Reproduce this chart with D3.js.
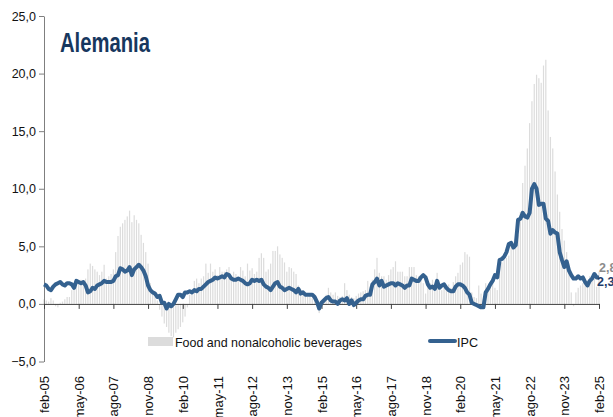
<!DOCTYPE html>
<html>
<head>
<meta charset="utf-8">
<script src="https://cdn.jsdelivr.net/npm/d3@7"></script>
<style>
body { margin: 0; background: #fff; }
text { font-family: "Liberation Sans", Arial, sans-serif; }
</style>
</head>
<body>
<script>
// monthly series, feb-05 .. feb-25
var food2005 = [0.4, 0.3, 0.2, 0.5, 0.3, -0.2, -0.3, 0.1, 0.2, 0.4, 0.6];
var foodYears = [
  [0.6, 1.2, 1.6, 2.0, 1.8, 2.1, 2.0, 2.2, 3.0, 3.5, 3.3, 3.0],
  [2.8, 2.5, 2.8, 3.4, 2.2, 2.4, 2.6, 3.0, 4.5, 5.9, 6.7, 7.0],
  [7.3, 7.6, 8.1, 7.1, 7.7, 7.3, 7.0, 6.0, 5.3, 4.5, 3.5, 1.8],
  [1.2, 0.6, 0.3, -0.5, -1.1, -1.7, -2.0, -2.5, -2.8, -2.9, -2.5, -2.2],
  [-2.0, -1.6, -1.1, -0.3, 0.8, 1.2, 2.0, 2.2, 1.8, 2.2, 2.4, 3.5],
  [2.7, 3.5, 2.8, 3.0, 2.5, 3.2, 2.8, 2.8, 3.0, 3.2, 2.4, 2.8],
  [2.6, 2.2, 3.2, 2.9, 2.4, 3.5, 2.9, 3.1, 2.6, 2.8, 4.0, 4.4],
  [4.0, 2.8, 3.0, 3.5, 4.6, 4.6, 5.0, 4.3, 4.0, 3.6, 2.8, 3.2],
  [3.1, 2.8, 2.6, 1.6, 1.3, 1.0, 0.8, 0.6, 0.8, 0.5, 0.5, 0.3],
  [-0.8, -0.3, 0.5, 0.8, 1.4, 1.0, 0.8, 1.0, 0.7, 0.6, 0.7, 1.8],
  [1.2, 0.8, 0.6, 0.5, 0.7, 0.9, 1.0, 1.1, 1.2, 2.0, 1.5, 2.1],
  [3.0, 4.0, 2.7, 2.4, 2.4, 2.1, 2.5, 3.0, 3.2, 3.7, 2.8, 2.8],
  [2.8, 2.4, 2.4, 3.2, 3.2, 3.2, 2.5, 2.4, 2.4, 1.8, 0.9, 1.8],
  [1.8, 2.1, 1.5, 2.7, 1.8, 1.2, 1.5, 1.6, 1.7, 1.4, 1.9, 2.4],
  [2.7, 3.4, 3.6, 4.5, 4.3, 4.1, 1.0, 0.6, 0.5, 1.6, 0.9, 0.4],
  [1.8, 1.3, 1.8, 1.8, 1.4, 1.2, 3.5, 3.6, 4.0, 4.0, 4.2, 5.0],
  [4.8, 5.2, 6.0, 8.0, 10.5, 12.0, 13.5, 15.7, 17.6, 19.1, 19.9, 19.6],
  [19.2, 20.7, 21.2, 16.8, 14.5, 13.5, 11.5, 9.5, 8.0, 6.5, 5.5, 4.5],
  [3.3, 1.0, -0.2, 1.0, 1.4, 1.6, 1.8, 2.2, 2.0, 2.4, 2.0, 2.2]
];
var food2025 = [1.5, 2.8];

var ipc2005 = [1.7, 1.6, 1.3, 1.2, 1.5, 1.7, 1.8, 1.9, 1.7, 1.6, 1.8];
var ipcYears = [
  [1.8, 1.7, 1.4, 2.0, 1.9, 1.8, 1.9, 1.6, 1.0, 1.1, 1.4, 1.3],
  [1.6, 1.7, 1.8, 2.0, 1.9, 1.9, 1.9, 2.0, 2.4, 2.5, 3.1, 3.0],
  [2.8, 2.9, 3.2, 2.5, 3.0, 3.2, 3.4, 3.2, 2.9, 2.4, 1.6, 1.2],
  [1.0, 0.9, 0.6, 0.7, 0.1, 0.1, -0.4, 0.0, -0.2, 0.0, 0.4, 0.8],
  [0.8, 0.6, 1.0, 1.0, 1.1, 1.0, 1.2, 1.1, 1.3, 1.3, 1.5, 1.7],
  [1.9, 2.0, 2.1, 2.3, 2.2, 2.3, 2.4, 2.3, 2.6, 2.5, 2.2, 2.1],
  [2.1, 2.2, 2.1, 2.0, 1.8, 1.7, 1.8, 2.1, 2.0, 2.1, 2.0, 2.1],
  [1.7, 1.5, 1.4, 1.2, 1.5, 1.8, 1.9, 1.5, 1.4, 1.2, 1.3, 1.4],
  [1.3, 1.2, 1.0, 1.3, 0.9, 1.0, 0.8, 0.8, 0.8, 0.8, 0.6, 0.2],
  [-0.4, 0.1, 0.3, 0.5, 0.6, 0.3, 0.2, 0.2, 0.0, 0.3, 0.4, 0.3],
  [0.5, 0.0, 0.3, -0.1, 0.1, 0.3, 0.4, 0.4, 0.7, 0.8, 0.8, 1.7],
  [1.9, 2.2, 1.6, 2.0, 1.5, 1.6, 1.7, 1.8, 1.8, 1.6, 1.8, 1.7],
  [1.6, 1.4, 1.6, 1.6, 2.2, 2.1, 2.0, 2.0, 2.3, 2.5, 2.3, 1.7],
  [1.4, 1.5, 1.3, 2.0, 1.4, 1.6, 1.7, 1.4, 1.2, 1.1, 1.1, 1.5],
  [1.7, 1.7, 1.6, 1.4, 1.0, 0.8, 0.1, 0.0, -0.1, -0.2, -0.3, -0.3],
  [1.0, 1.3, 1.7, 2.0, 2.5, 2.3, 3.8, 3.9, 4.1, 4.5, 5.2, 5.3],
  [4.9, 5.1, 7.3, 7.4, 7.9, 7.6, 7.5, 7.9, 10.0, 10.4, 10.0, 8.6],
  [8.7, 8.7, 7.4, 7.2, 6.1, 6.4, 6.2, 6.1, 4.5, 3.8, 3.2, 3.7],
  [2.9, 2.5, 2.2, 2.2, 2.4, 2.2, 2.3, 1.9, 1.6, 2.0, 2.2, 2.6]
];
var ipc2025 = [2.3, 2.3];

var tickLabels = ["feb-05", "may-06", "ago-07", "nov-08", "feb-10", "may-11", "ago-12", "nov-13",
                  "feb-15", "may-16", "ago-17", "nov-18", "feb-20", "may-21", "ago-22", "nov-23", "feb-25"];
var yTicks = [-5, 0, 5, 10, 15, 20, 25];

var food = food2005.concat(d3.merge(foodYears), food2025);
var ipc = ipc2005.concat(d3.merge(ipcYears), ipc2025);
var n = food.length;

var svg = d3.select("body").append("svg").attr("width", 613).attr("height", 417);

var x = d3.scaleLinear().domain([0, n - 1]).range([44, 599]);
var y = d3.scaleLinear().domain([-5, 25]).range([361.5, 16]);

// bars
svg.append("g").selectAll("rect")
  .data(food)
  .join("rect")
  .attr("x", function(d, i) { return x(i) - 0.6; })
  .attr("width", 1.2)
  .attr("y", function(d) { return y(Math.max(0, d)); })
  .attr("height", function(d) { return Math.abs(y(d) - y(0)); })
  .attr("fill", "#dcdcdc");

// y axis
var yAxis = svg.append("g")
  .attr("transform", "translate(44,0)")
  .call(d3.axisLeft(y).tickValues(yTicks).tickSize(5).tickSizeOuter(0)
    .tickFormat(function(d) { return d3.format(".1f")(d).replace(".", ","); }));
yAxis.select(".domain").attr("stroke", "#7f7f7f");
yAxis.selectAll(".tick line").attr("stroke", "#7f7f7f");
yAxis.selectAll("text").attr("font-size", 12.5).attr("fill", "#111").attr("x", -8)
  .attr("font-family", "Liberation Sans, Arial, sans-serif");

// x axis at zero
var xAxis = svg.append("g")
  .attr("transform", "translate(0," + y(0) + ")")
  .call(d3.axisBottom(x).tickValues(tickLabels.map(function(d, i) { return i * 15; }))
    .tickSize(5).tickSizeOuter(0).tickFormat(function(d) { return tickLabels[d / 15]; }));
xAxis.select(".domain").attr("stroke", "#404040");
xAxis.selectAll(".tick line").attr("stroke", "#404040");
xAxis.selectAll("text")
  .attr("font-size", 13).attr("fill", "#111")
  .attr("font-family", "Liberation Sans, Arial, sans-serif")
  .attr("text-anchor", "end")
  .attr("transform", "translate(0," + (376 - y(0)) + ") rotate(-90)")
  .attr("x", 0).attr("y", 0).attr("dy", "0.35em");

// IPC line
var line = d3.line()
  .x(function(d, i) { return x(i); })
  .y(function(d) { return y(d); });
svg.append("path")
  .datum(ipc)
  .attr("d", line)
  .attr("fill", "none")
  .attr("stroke", "#34618f")
  .attr("stroke-width", 4)
  .attr("stroke-linejoin", "round");

// end labels
svg.append("text").attr("x", 599).attr("y", y(food[n - 1]) + 0.5)
  .attr("font-size", 12.5).attr("font-weight", "bold").attr("fill", "#8c8c8c")
  .text(d3.format(".1f")(food[n - 1]).replace(".", ","));
svg.append("text").attr("x", 597).attr("y", y(ipc[n - 1]) + 9)
  .attr("font-size", 12.5).attr("font-weight", "bold").attr("fill", "#1f3d6b")
  .text(d3.format(".1f")(ipc[n - 1]).replace(".", ","));

// title
svg.append("text").attr("x", 60).attr("y", 52)
  .attr("font-size", 27).attr("font-weight", "bold").attr("fill", "#17375e")
  .attr("textLength", 90).attr("lengthAdjust", "spacingAndGlyphs")
  .text("Alemania");

// legend
svg.append("rect").attr("x", 148).attr("y", 337).attr("width", 25).attr("height", 9).attr("fill", "#dcdcdc");
svg.append("text").attr("x", 175).attr("y", 347).attr("font-size", 13).attr("fill", "#111")
  .attr("textLength", 187).attr("lengthAdjust", "spacingAndGlyphs")
  .text("Food and nonalcoholic beverages");
svg.append("line").attr("x1", 430).attr("x2", 455).attr("y1", 341).attr("y2", 341)
  .attr("stroke", "#34618f").attr("stroke-width", 4).attr("stroke-linecap", "round");
svg.append("text").attr("x", 457).attr("y", 347).attr("font-size", 13).attr("fill", "#111")
  .attr("textLength", 21).attr("lengthAdjust", "spacingAndGlyphs")
  .text("IPC");
</script>
</body>
</html>
